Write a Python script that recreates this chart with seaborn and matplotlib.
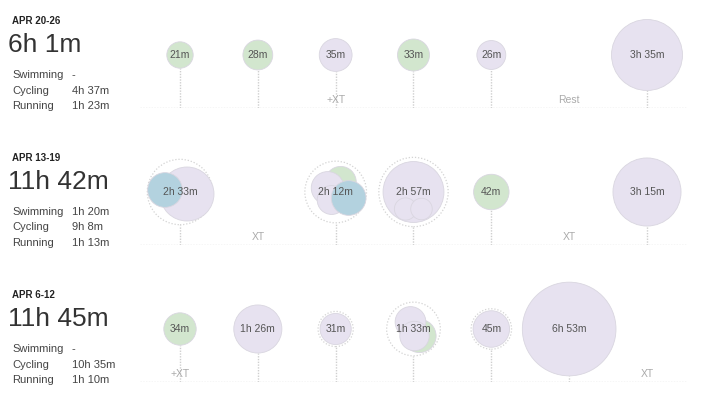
import numpy as np
import pandas as pd
import matplotlib
matplotlib.use("Agg")
import matplotlib.pyplot as plt
import seaborn as sns

# ---------------- data ----------------
weeks = ["APR 20-26", "APR 13-19", "APR 6-12"]
week_totals = ["6h 1m", "11h 42m", "11h 45m"]
sport_names = ["Swimming", "Cycling", "Running"]
swim_totals = ["-", "1h 20m", "-"]
bike_totals = ["4h 37m", "9h 8m", "10h 35m"]
run_totals = ["1h 23m", "1h 13m", "1h 10m"]

# workouts per week: day index (0 = Mon), sport, minutes
w1_day = [0, 1, 2, 3, 4, 6]
w1_sport = ["Running", "Running", "Cycling", "Running", "Cycling", "Cycling"]
w1_min = [21, 28, 35, 33, 26, 215]

w2_day = [0, 0, 2, 2, 2, 2, 3, 3, 3, 4, 6]
w2_sport = ["Cycling", "Swimming", "Running", "Cycling", "Cycling", "Swimming",
            "Cycling", "Cycling", "Cycling", "Running", "Cycling"]
w2_min = [113, 40, 31, 35, 26, 40, 150, 14, 13, 42, 195]

w3_day = [0, 1, 2, 3, 3, 3, 4, 5]
w3_sport = ["Running", "Cycling", "Cycling", "Running", "Cycling", "Cycling",
            "Cycling", "Cycling"]
w3_min = [34, 86, 31, 36, 30, 27, 45, 413]

# day notes (cross-training / rest)
w1_note_day = [2, 5]
w1_note = ["+XT", "Rest"]
w2_note_day = [1, 5]
w2_note = ["XT", "XT"]
w3_note_day = [0, 6]
w3_note = ["+XT", "XT"]

# ---------------- layout (pixel offsets of stacked sub-circles) ----------------
w1_dx = [0, 0, 0, 0, 0, 0]
w1_dy = [0, 0, 0, 0, 0, 0]
w2_dx = [7, -15, 5, -8, -4, 13, 0, -8, 8, 0, 0]
w2_dy = [-2, 2, 10, 4, -8, -6, 0, -17, -17, 0, 0]
w3_dx = [0, 0, 0, 6, -3, 1, 0, 0]
w3_dy = [0, 0, 0, -7, 7, -7, 0, 0]
ring_days = [[], [0, 2, 3], [2, 3, 4]]

week_data = [
    (w1_day, w1_sport, w1_min, w1_dx, w1_dy, w1_note_day, w1_note),
    (w2_day, w2_sport, w2_min, w2_dx, w2_dy, w2_note_day, w2_note),
    (w3_day, w3_sport, w3_min, w3_dx, w3_dy, w3_note_day, w3_note),
]

PALETTE = {"Swimming": "#b3d2df", "Cycling": "#e7e2f0", "Running": "#d2e6ce"}

W, H = 725, 413
PX_LEFT, PX_RIGHT = 140, 687
DAY0_PX, DAY6_PX = 180, 647
PX_PER_DAY = (DAY6_PX - DAY0_PX) / 6
BASELINES = [108, 245, 382]
CENTER = 53
R0, P = 3.62, 0.425
AMAX = 20000


def radius(m):
    return R0 * np.asarray(m, dtype=float) ** P


def area(r):
    return (2 * r * 0.72) ** 2


def fmt(m):
    h, mm = divmod(int(m), 60)
    return f"{h}h {mm}m" if h else f"{mm}m"


sns.set_style("white")
plt.rcParams["font.family"] = ["Liberation Sans", "DejaVu Sans"]

fig = plt.figure(figsize=(W / 100, H / 100), dpi=100)
fig.patch.set_facecolor("white")

for i, (days, sports, mins, dxs, dys, ndays, notes) in enumerate(week_data):
    base = BASELINES[i]
    off = base - 108
    # ---- left panel text ----
    fig.text(12 / W, 1 - (21 + off) / H, weeks[i], fontsize=7, fontweight="bold",
             color="#222222", va="center", ha="left")
    fig.text(8.5 / W, 1 - (45 + off) / H, week_totals[i], fontsize=19,
             color="#333333", va="center", ha="left")
    vals = [swim_totals[i], bike_totals[i], run_totals[i]]
    for j, (nm, v) in enumerate(zip(sport_names, vals)):
        yy = 1 - (75 + 15.5 * j + off) / H
        fig.text(12 / W, yy, nm, fontsize=8, color="#444444", va="center")
        fig.text(72 / W, yy, v, fontsize=8, color="#444444", va="center")

    # ---- timeline axes ----
    ax = fig.add_axes([PX_LEFT / W, 1 - base / H, (PX_RIGHT - PX_LEFT) / W, 100 / H])
    xl = -(DAY0_PX - PX_LEFT) / PX_PER_DAY
    xr = 6 + (PX_RIGHT - DAY6_PX) / PX_PER_DAY
    ax.set_xlim(xl, xr)
    ax.set_ylim(0, 100)
    ax.axis("off")

    df = pd.DataFrame({"day": days, "sport": sports, "minutes": mins,
                       "dx": dxs, "dy": dys})
    df["r"] = radius(df["minutes"])
    df["x"] = df["day"] + df["dx"] / PX_PER_DAY
    df["y"] = CENTER + df["dy"]
    df["area"] = area(df["r"])

    tot = df.groupby("day")["minutes"].sum()

    # baseline
    ax.axhline(0.5, color="#d4d4d4", lw=1.0, ls=(0, (1, 1)), zorder=1)

    # stems
    for d, m in tot.items():
        outer = radius(m)
        if d in ring_days[i]:
            outer = outer + 2
        ax.vlines(d, 0.5, CENTER - outer, color="#cfcfcf", lw=1.0,
                  ls=(0, (1, 1)), zorder=1)

    # dotted rings for multi-session days
    if ring_days[i]:
        rings = pd.DataFrame({"day": ring_days[i]})
        rings["r"] = radius(tot.loc[rings["day"]].values) + 2
        rings["y"] = CENTER
        rings["area"] = area(rings["r"])
        sns.scatterplot(data=rings, x="day", y="y", size="area",
                        sizes=(0, AMAX), size_norm=(0, AMAX), legend=False,
                        ax=ax, fc="none", edgecolor="#d3d3d3", linewidth=0.9,
                        linestyle=(0, (1, 1.5)), zorder=2, clip_on=False)

    # workout bubbles
    sns.scatterplot(data=df, x="x", y="y", hue="sport", palette=PALETTE,
                    size="area", sizes=(0, AMAX), size_norm=(0, AMAX),
                    legend=False, ax=ax, edgecolor="#d9d6e0",
                    linewidth=0.6, zorder=3, clip_on=False)

    # day totals
    for d, m in tot.items():
        ax.text(d, CENTER, fmt(m), ha="center", va="center", fontsize=7.5,
                color="#555555", zorder=5)

    # notes
    for d, t in zip(ndays, notes):
        ax.text(d, 8, t, ha="center", va="center", fontsize=7.5,
                color="#aaaaaa", zorder=5)

    ax.set_xlabel("")
    ax.set_ylabel("")

fig.savefig("out.png", dpi=100, facecolor="white")
